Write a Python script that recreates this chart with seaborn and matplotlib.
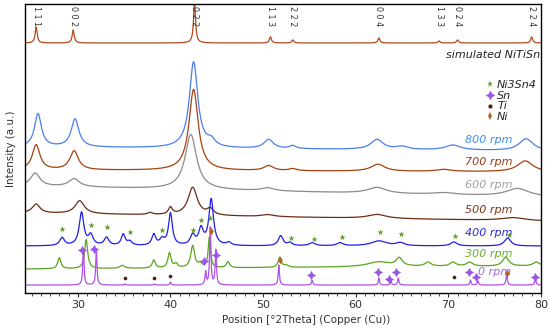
import numpy as np
import pandas as pd
import matplotlib
matplotlib.use("Agg")
import matplotlib.pyplot as plt
from matplotlib.lines import Line2D
from matplotlib.ticker import MultipleLocator
import seaborn as sns

# Dane: polozenia refleksow [deg 2Theta], wysokosci i szerokosci (HWHM)
two_theta = np.linspace(24.3, 80.0, 2400)

series_names = ["simulated", "800 rpm", "700 rpm", "600 rpm", "500 rpm", "400 rpm", "300 rpm", "0 rpm"]

# tlo (lewo, prawo) dla kazdej serii, wartosci przesuniete w pionie
sim_base = (250, 250)
sim_pos = [25.5, 29.5, 42.6, 50.8, 53.2, 62.5, 69.0, 71.0, 79.0]
sim_h = [16, 13, 40, 6, 3, 5, 2, 3, 6]
sim_w = [0.13] * 9

r800_base = (146, 142)
r800_pos = [25.7, 29.7, 42.5, 44.4, 50.6, 53.2, 62.3, 65.0, 70.5, 78.4]
r800_h = [33, 28, 86, 6, 9, 3, 10, 3, 5, 12]
r800_w = [0.45, 0.5, 0.55, 0.5, 0.6, 0.4, 0.8, 0.8, 1.0, 0.9]

r700_base = (123, 121)
r700_pos = [25.5, 29.6, 42.5, 50.6, 53.2, 62.4, 69.5, 78.3]
r700_h = [25, 19, 81, 5, 2, 7, 2, 11]
r700_w = [0.5, 0.55, 0.6, 0.6, 0.5, 0.9, 1.0, 1.0]

r600_base = (107, 96)
r600_pos = [25.4, 29.6, 42.2, 50.5, 62.3, 69.5, 77.5]
r600_h = [13, 8, 55, 3, 6, 2, 8]
r600_w = [0.6, 0.7, 0.75, 0.8, 1.2, 1.5, 1.5]

r500_base = (80, 72)
r500_pos = [25.5, 30.2, 37.8, 40.0, 42.4, 44.3, 50.5, 62.3, 77.0]
r500_h = [9, 13, 2, 7, 28, 6, 2, 4, 3]
r500_w = [0.5, 0.6, 0.3, 0.25, 0.6, 0.4, 0.8, 1.2, 1.5]

r400_base = (47, 47)
r400_pos = [28.3, 30.4, 31.4, 33.1, 34.9, 35.6, 38.2, 39.1, 40.0, 42.4, 43.3, 44.4,
            46.3, 51.9, 52.9, 55.3, 58.3, 62.5, 64.8, 70.6, 76.4]
r400_h = [8, 33, 10, 8, 11, 4, 11, 6, 32, 10, 16, 46, 3, 10, 3, 3, 3, 5, 3, 4, 8]
r400_w = [0.3, 0.3, 0.3, 0.3, 0.25, 0.3, 0.25, 0.3, 0.25, 0.3, 0.3, 0.3,
          0.3, 0.3, 0.3, 0.4, 0.4, 1.0, 0.5, 0.4, 0.4]

r300_base = (24, 27)
r300_pos = [28.0, 30.9, 34.8, 38.2, 39.9, 40.6, 42.4, 43.2, 44.2, 46.2, 51.8, 52.5,
            62.5, 64.7, 67.8, 70.5, 72.3, 76.2, 79.5]
r300_h = [11, 29, 3, 8, 15, 4, 22, 4, 30, 6, 10, 2, 5, 8, 4, 4, 4, 9, 4]
r300_w = [0.2, 0.2, 0.3, 0.2, 0.2, 0.2, 0.25, 0.2, 0.15, 0.2, 0.2, 0.3,
          1.5, 0.4, 0.4, 0.4, 0.4, 0.4, 0.4]

r0_base = (8, 8)
r0_pos = [30.6, 32.0, 35.1, 38.3, 40.0, 43.8, 44.3, 44.9, 51.7, 55.3, 62.5, 63.8,
          64.6, 72.4, 73.2, 76.3, 79.4]
r0_h = [37, 36, 1, 1, 3, 13, 58, 35, 20, 5, 7, 4, 7, 5, 4, 12, 7]
r0_w = [0.08] * 17

line_colors = ["#b04a1c", "#4a7ef0", "#a8400f", "#8a8a8a", "#6b2c12", "#1f1fe8", "#5aa51e", "#b050e8"]
label_colors = ["#333333", "#3d8ef5", "#9a3a18", "#a0a0a0", "#7a3418", "#2a2ad8", "#6aae2e", "#9a6cf0"]
label_x = [None, 71.8, 71.8, 71.8, 71.8, 71.8, 71.8, 73.2]
label_y = [None, 153, 131, 108, 83, 60, 39, 21]

# znaczniki faz
ni3sn4_x = [28.3, 31.4, 33.2, 35.6, 39.1, 42.4, 43.3, 44.3, 53.0, 55.5, 58.5, 62.6, 64.9, 70.7, 76.6]
ni3sn4_y = [64, 68, 66, 61, 63, 63, 73, 75, 55, 54, 56, 61, 59, 57, 58]
sn_x = [30.4, 31.8, 43.6, 44.9, 55.2, 62.4, 63.6, 64.4, 72.2, 73.0, 79.4]
sn_y = [43, 44, 32, 38, 18, 21, 14, 21, 21, 16, 16]
ti_x = [35.1, 38.2, 40.0, 70.6]
ti_y = [15, 15, 17, 16]
ni_x = [44.4, 51.8, 76.3]
ni_y = [62, 33, 20]

hkl_labels = ["1 1 1", "0 0 2", "0 2 2", "1 1 3", "2 2 2", "0 0 4", "1 3 3", "0 2 4", "2 2 4"]


def profile(base, pos, h, w):
    y = np.interp(two_theta, [two_theta[0], two_theta[-1]], base)
    for p, a, g in zip(pos, h, w):
        y = y + a * g ** 2 / ((two_theta - p) ** 2 + g ** 2)
    return y


curves = [
    profile(sim_base, sim_pos, sim_h, sim_w),
    profile(r800_base, r800_pos, r800_h, r800_w),
    profile(r700_base, r700_pos, r700_h, r700_w),
    profile(r600_base, r600_pos, r600_h, r600_w),
    profile(r500_base, r500_pos, r500_h, r500_w),
    profile(r400_base, r400_pos, r400_h, r400_w),
    profile(r300_base, r300_pos, r300_h, r300_w),
    profile(r0_base, r0_pos, r0_h, r0_w),
]

sns.set_theme(style="ticks")
plt.rcParams['font.family'] = ['DejaVu Sans']

fig = plt.figure(figsize=(5.5, 3.3), dpi=100)
ax = fig.add_axes([0.0455, 0.112, 0.938, 0.876])

for name, y, col in zip(series_names, curves, line_colors):
    df = pd.DataFrame({'x': two_theta, 'y': y})
    sns.lineplot(data=df, x='x', y='y', color=col, lw=0.9, ax=ax, sort=False, legend=False)

for name, col, lx, ly in zip(series_names[1:], label_colors[1:], label_x[1:], label_y[1:]):
    ax.text(lx, ly, name, color=col, fontsize=8, style='italic', va='center', ha='left')

ax.text(79.9, 238, "simulated NiTiSn", fontsize=8, style='italic', ha='right', va='center', color='#222222')

for p, lab in zip(sim_pos, hkl_labels):
    ax.text(p, 287, lab, rotation=270, fontsize=5.8, ha='center', va='top', color='#333333')

ax.scatter(ni3sn4_x, ni3sn4_y, marker='*', s=22, color='#5f9e22', zorder=5, linewidths=0)
ax.scatter(sn_x, sn_y, marker=(4, 1, 0), s=45, color='#9b55e8', zorder=5, linewidths=0)
ax.scatter(ti_x, ti_y, marker='o', s=7, color='#4a2010', zorder=5, linewidths=0)
ax.scatter(ni_x, ni_y, marker='d', s=16, color='#b8641e', zorder=5, linewidths=0)

handles = [
    Line2D([], [], ls='', marker='*', ms=5, color='#5f9e22', mew=0),
    Line2D([], [], ls='', marker=(4, 1, 0), ms=7, color='#9b55e8', mew=0),
    Line2D([], [], ls='', marker='o', ms=3, color='#4a2010', mew=0),
    Line2D([], [], ls='', marker='d', ms=4, color='#b8641e', mew=0),
]
ax.legend(handles, ["Ni3Sn4", "Sn", "Ti", "Ni"], loc='upper left', bbox_to_anchor=(0.885, 0.755),
          frameon=False, prop={'style': 'italic', 'size': 8}, handlelength=0.6,
          handletextpad=0.3, labelspacing=0.05, borderpad=0)

ax.set_xlim(24.3, 80)
ax.set_ylim(0, 289)
ax.set_yticks([])
ax.xaxis.set_major_locator(MultipleLocator(10))
ax.xaxis.set_minor_locator(MultipleLocator(1))
ax.tick_params(axis='x', which='major', length=3, width=0.8, labelsize=8, pad=2, colors='#333333')
ax.tick_params(axis='x', which='minor', length=2, width=0.6, colors='#333333')
for s in ax.spines.values():
    s.set_linewidth(1.0)
    s.set_color('black')

ax.set_xlabel("Position [°2Theta] (Copper (Cu))", fontsize=7.5, color='#333333')
ax.xaxis.set_label_coords(0.545, -0.075)
ax.set_ylabel("Intensity (a.u.)", fontsize=7.5, color='#333333')
ax.yaxis.set_label_coords(-0.018, 0.5)

plt.savefig('out.png', dpi=100)
plt.close()
